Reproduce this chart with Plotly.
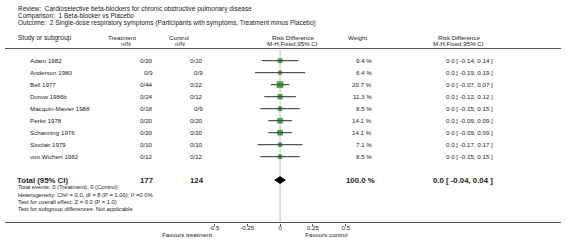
import plotly.graph_objects as go

W, H = 566, 241

studies = ["Adam 1982", "Anderson 1980", "Bell 1977", "Dorow 1986b", "Macquin-Mavier 1988",
           "Perks 1978", "Schanning 1976", "Sinclair 1979", "von Wichert 1982"]
treat_nN = ["0/20", "0/9", "0/44", "0/24", "0/18", "0/20", "0/20", "0/10", "0/12"]
ctrl_nN = ["0/10", "0/9", "0/22", "0/12", "0/9", "0/20", "0/20", "0/10", "0/12"]
weights = [9.4, 6.4, 20.7, 11.3, 8.5, 14.1, 14.1, 7.1, 8.5]
rd = [0.0, 0.0, 0.0, 0.0, 0.0, 0.0, 0.0, 0.0, 0.0]
lo = [-0.14, -0.19, -0.07, -0.12, -0.15, -0.09, -0.09, -0.17, -0.15]
hi = [0.14, 0.19, 0.07, 0.12, 0.15, 0.09, 0.09, 0.17, 0.15]

total_treat, total_ctrl = 177, 124
total_weight = 100.0
total_rd, total_lo, total_hi = 0.0, -0.04, 0.04

tick_vals = [-0.5, -0.25, 0, 0.25, 0.5]
tick_text = ["-0.5", "-0.25", "0", "0.25", "0.5"]

FONT = "Liberation Sans, Arial, sans-serif"
TXT = "#222"

# pixel layout helpers
ROW0, STEP = 60.7, 12.0
AXIS_PX = 222.5
def pxr(p):
    return (p - ROW0) / STEP
def py(p):
    return 1 - p / H
def pxx(p):
    return p / W

total_row = len(studies) + 0.95

fig = go.Figure()

# CI lines
for i in range(len(studies)):
    fig.add_trace(go.Scatter(x=[lo[i], hi[i]], y=[i, i], mode="lines",
                             line=dict(color="#555", width=1.3), hoverinfo="skip", showlegend=False))
# squares
fig.add_trace(go.Scatter(x=rd, y=list(range(len(studies))), mode="markers",
                         marker=dict(symbol="square", color="#087a08",
                                     size=[1.32 * w ** 0.5 for w in weights],
                                     line=dict(color="#064d06", width=0.6)),
                         hoverinfo="skip", showlegend=False))
# diamond
dh = 0.29
fig.add_trace(go.Scatter(x=[total_lo, total_rd, total_hi, total_rd, total_lo],
                         y=[total_row, total_row - dh, total_row, total_row + dh, total_row],
                         mode="lines", fill="toself", fillcolor="black",
                         line=dict(color="black", width=0.8), hoverinfo="skip", showlegend=False))

shapes = [
    dict(type="line", xref="x", yref="paper", x0=0, x1=0, y0=py(AXIS_PX), y1=py(50),
         line=dict(color="#d4d4d4", width=1.5), layer="below"),
    dict(type="line", xref="paper", yref="paper", x0=0, x1=1, y0=py(48.5), y1=py(48.5),
         line=dict(color="#555", width=1)),
    dict(type="line", xref="paper", yref="paper", x0=0, x1=1, y0=py(AXIS_PX), y1=py(AXIS_PX),
         line=dict(color="#555", width=1)),
]

ann = []
def txt(x, y, s, anchor="left", size=6.2, bold=False, yref="paper", color=TXT):
    ann.append(dict(x=pxx(x), y=y, xref="paper", yref=yref, text=f"<b>{s}</b>" if bold else s,
                    showarrow=False, xanchor=anchor, yanchor="middle",
                    font=dict(family=FONT, size=size, color=color)))

txt(11, py(9), "Review:  Cardioselective beta-blockers for chronic obstructive pulmonary disease", size=6.5)
txt(11, py(16), "Comparison:  1 Beta-blocker vs Placebo", size=6.5)
txt(11, py(23), "Outcome:  2 Single-dose respiratory symptoms (Participants with symptoms, Treatment minus Placebo)", size=6.5)

txt(11, py(38), "Study or subgroup", size=6.5)
txt(119, py(37), "Treatment", "center")
txt(123, py(43.5), "n/N", "center")
txt(177, py(37), "Control", "center")
txt(178, py(43.5), "n/N", "center")
txt(293, py(37), "Risk Difference", "center")
txt(293, py(43.5), "M-H,Fixed,95% CI", "center")
txt(359, py(37), "Weight", "center")
txt(462, py(37), "Risk Difference", "center")
txt(462, py(43.5), "M-H,Fixed,95% CI", "center")

for i, s in enumerate(studies):
    txt(23, i, s, yref="y")
    txt(153, i, treat_nN[i], "right", yref="y")
    txt(204, i, ctrl_nN[i], "right", yref="y")
    txt(376, i, f"{weights[i]:.1f} %", "right", yref="y")
    txt(499, i, f"{rd[i]:.1f} [ {lo[i]:.2f}, {hi[i]:.2f} ]", "right", yref="y")

txt(10, total_row, "Total (95% CI)", size=7.8, bold=True, yref="y")
txt(153, total_row, str(total_treat), "right", size=7.8, bold=True, yref="y")
txt(205, total_row, str(total_ctrl), "right", size=7.8, bold=True, yref="y")
txt(379, total_row, f"{total_weight:.1f} %", "right", size=7.8, bold=True, yref="y")
txt(499, total_row, f"{total_rd:.1f} [ {total_lo:.2f}, {total_hi:.2f} ]", "right", size=7.8, bold=True, yref="y")

txt(11, py(187), "Total events: 0 (Treatment), 0 (Control)", size=5.8)
txt(11, py(194.5), "Heterogeneity: Chi² = 0.0, df = 8 (P = 1.00); I² =0.0%", size=5.8)
txt(11, py(202), "Test for overall effect: Z = 0.0 (P = 1.0)", size=5.8)
txt(11, py(209), "Test for subgroup differences: Not applicable", size=5.8)

txt(213, py(234), "Favours treatment", "right", size=6.2)
txt(303, py(234), "Favours control", "left", size=6.2)

fig.update_layout(
    width=W, height=H, margin=dict(l=0, r=0, t=0, b=0),
    paper_bgcolor="white", plot_bgcolor="white",
    shapes=shapes, annotations=ann, showlegend=False,
    xaxis=dict(domain=[213 / W, 347 / W], range=[-0.5, 0.5], tickvals=tick_vals, ticktext=tick_text,
               ticks="outside", ticklen=2, tickcolor="#555", tickwidth=1,
               ticklabelstandoff=-3,
               showgrid=False, zeroline=False, showline=False,
               tickfont=dict(family=FONT, size=6, color=TXT), fixedrange=True),
    yaxis=dict(domain=[1 - AXIS_PX / H, 1], range=[pxr(AXIS_PX), pxr(0)],
               showticklabels=False, showgrid=False, zeroline=False, showline=False, ticks="",
               fixedrange=True),
)

fig.write_html("out.html", config={"displayModeBar": False},
               post_script="document.body.style.margin='0';document.body.style.padding='0';document.body.style.overflow='hidden';")
